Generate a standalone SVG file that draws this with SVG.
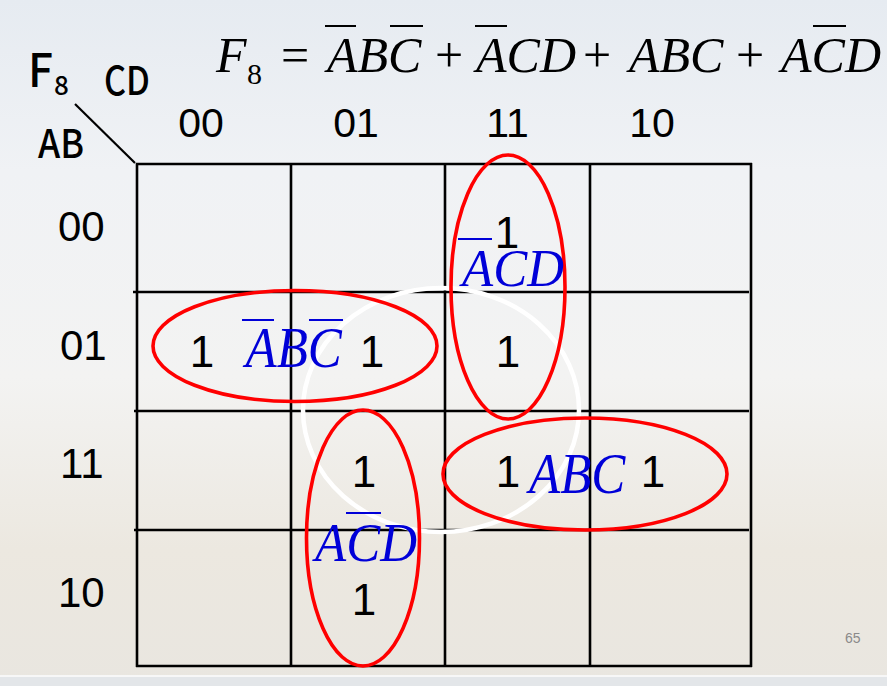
<svg xmlns="http://www.w3.org/2000/svg" width="887" height="686" viewBox="0 0 887 686">
<defs>
<linearGradient id="bg" x1="0" y1="0" x2="0" y2="1">
<stop offset="0" stop-color="#e6ebf1"/>
<stop offset="0.25" stop-color="#f0f2f5"/>
<stop offset="0.55" stop-color="#f3f3f2"/>
<stop offset="0.8" stop-color="#ece8e0"/>
<stop offset="1" stop-color="#e9e6e0"/>
</linearGradient>
<style>
.grid{stroke:#000;stroke-width:2.6;fill:none}
.ring{fill:none;stroke:#ff0000;stroke-width:3.6}
.eq{font-family:"Liberation Serif","Times New Roman",serif;font-style:italic;font-size:50px;fill:#000}
.op{font-family:"Liberation Serif","Times New Roman",serif;font-size:50px;fill:#000}
.sub{font-family:"Liberation Serif","Times New Roman",serif;font-size:30px;fill:#000}
.bar{stroke:#000;stroke-width:2}
.bbar{stroke:#0000d8;stroke-width:2}
.blue{font-family:"Liberation Serif","Times New Roman",serif;font-style:italic;font-size:51px;fill:#0000d8}
.one{font-family:"Liberation Sans",Arial,sans-serif;font-size:44px;fill:#000;text-anchor:middle}
.rl{font-family:"Liberation Sans",Arial,sans-serif;font-size:42px;fill:#000}
.cl{font-family:"Liberation Sans",Arial,sans-serif;font-size:41px;fill:#000;text-anchor:middle}
.lab{font-family:"Noto Sans CJK SC","Liberation Sans",sans-serif;font-weight:500;fill:#000}
</style>
</defs>
<rect x="0" y="0" width="887" height="686" fill="url(#bg)"/>
<rect x="0" y="677" width="887" height="9" fill="#e3e6e9"/>
<rect x="0" y="675" width="887" height="2" fill="#f7f7f7"/>

<g id="equation">
<text class="eq" x="216" y="72">F</text>
<text class="sub" x="247" y="84">8</text>
<text class="op" x="281" y="72">=</text>
<text class="eq" x="327" y="72">ABC</text>
<line class="bar" x1="325" y1="26" x2="356" y2="26"/>
<line class="bar" x1="390" y1="26" x2="423" y2="26"/>
<text class="op" x="435" y="72">+</text>
<text class="eq" x="476" y="72">ACD</text>
<line class="bar" x1="475" y1="26" x2="507" y2="26"/>
<text class="op" x="583" y="72">+</text>
<text class="eq" x="629" y="72">ABC</text>
<text class="op" x="736" y="72">+</text>
<text class="eq" x="781" y="72">ACD</text>
<line class="bar" x1="813" y1="26" x2="846" y2="26"/>
</g>

<g id="corner-labels">
<text class="lab" x="28" y="87" font-size="46" textLength="25" lengthAdjust="spacingAndGlyphs">F</text>
<text class="lab" x="54" y="95" font-size="26">8</text>
<text class="lab" x="104" y="95" font-size="40" textLength="46" lengthAdjust="spacingAndGlyphs">CD</text>
<text class="lab" x="38" y="158" font-size="40" textLength="46" lengthAdjust="spacingAndGlyphs">AB</text>
<line x1="75" y1="104" x2="135" y2="163" stroke="#000" stroke-width="2.2"/>
</g>

<g id="column-labels">
<text class="cl" x="201" y="137">00</text>
<text class="cl" x="356" y="137">01</text>
<text class="cl" x="507.5" y="137">11</text>
<text class="cl" x="652" y="137">10</text>
</g>

<g id="row-labels">
<text class="rl" x="58" y="241">00</text>
<text class="rl" x="60" y="360">01</text>
<text class="rl" x="60" y="478">11</text>
<text class="rl" x="58" y="607">10</text>
</g>

<g id="grid">
<line class="grid" x1="136" y1="164" x2="752" y2="164"/>
<line class="grid" x1="133" y1="292" x2="749" y2="292"/>
<line class="grid" x1="134" y1="411" x2="749" y2="411"/>
<line class="grid" x1="134" y1="530" x2="749" y2="530"/>
<line class="grid" x1="136" y1="666" x2="752" y2="666" stroke-width="3.2"/>
<line class="grid" x1="137" y1="163" x2="137" y2="667"/>
<line class="grid" x1="291" y1="163" x2="291" y2="667"/>
<line class="grid" x1="445" y1="163" x2="445" y2="667"/>
<line class="grid" x1="590" y1="163" x2="590" y2="667"/>
<line class="grid" x1="751" y1="163" x2="751" y2="667"/>
</g>

<g id="cell-values">
<text class="one" x="507" y="248">1</text>
<text class="one" x="202" y="367">1</text>
<text class="one" x="372" y="367">1</text>
<text class="one" x="508" y="367">1</text>
<text class="one" x="364" y="487">1</text>
<text class="one" x="508" y="487">1</text>
<text class="one" x="653" y="487">1</text>
<text class="one" x="364" y="615">1</text>
</g>

<g id="white-loop">
<ellipse cx="441" cy="410" rx="138" ry="122" fill="none" stroke="#ffffff" stroke-width="4.5"/>
</g>

<g id="loop-notA-B-notC">
<ellipse class="ring" cx="295" cy="346" rx="142" ry="55.5"/>
<text class="blue" transform="translate(245.5,367) scale(1,1.13)">ABC</text>
<line class="bbar" x1="242" y1="320" x2="274" y2="320"/>
<line class="bbar" x1="309" y1="320" x2="343" y2="320"/>
</g>

<g id="loop-notA-C-D">
<ellipse class="ring" cx="508" cy="287" rx="57" ry="132"/>
<text class="blue" transform="translate(462,286) scale(1,1.02)">ACD</text>
<line class="bbar" x1="458" y1="239" x2="492" y2="239"/>
</g>

<g id="loop-A-B-C">
<ellipse class="ring" cx="585" cy="474" rx="142" ry="56"/>
<text class="blue" transform="translate(529,493) scale(1,1.13)">ABC</text>
</g>

<g id="loop-A-notC-D">
<ellipse class="ring" cx="363" cy="538" rx="56.5" ry="128"/>
<text class="blue" transform="translate(315,561) scale(1,1.08)">ACD</text>
<line class="bbar" x1="346" y1="513" x2="381" y2="513"/>
</g>

<text x="845" y="643" font-family="Liberation Sans Narrow,Liberation Sans,sans-serif" font-size="14" fill="#8a8a8a">65</text>
</svg>
